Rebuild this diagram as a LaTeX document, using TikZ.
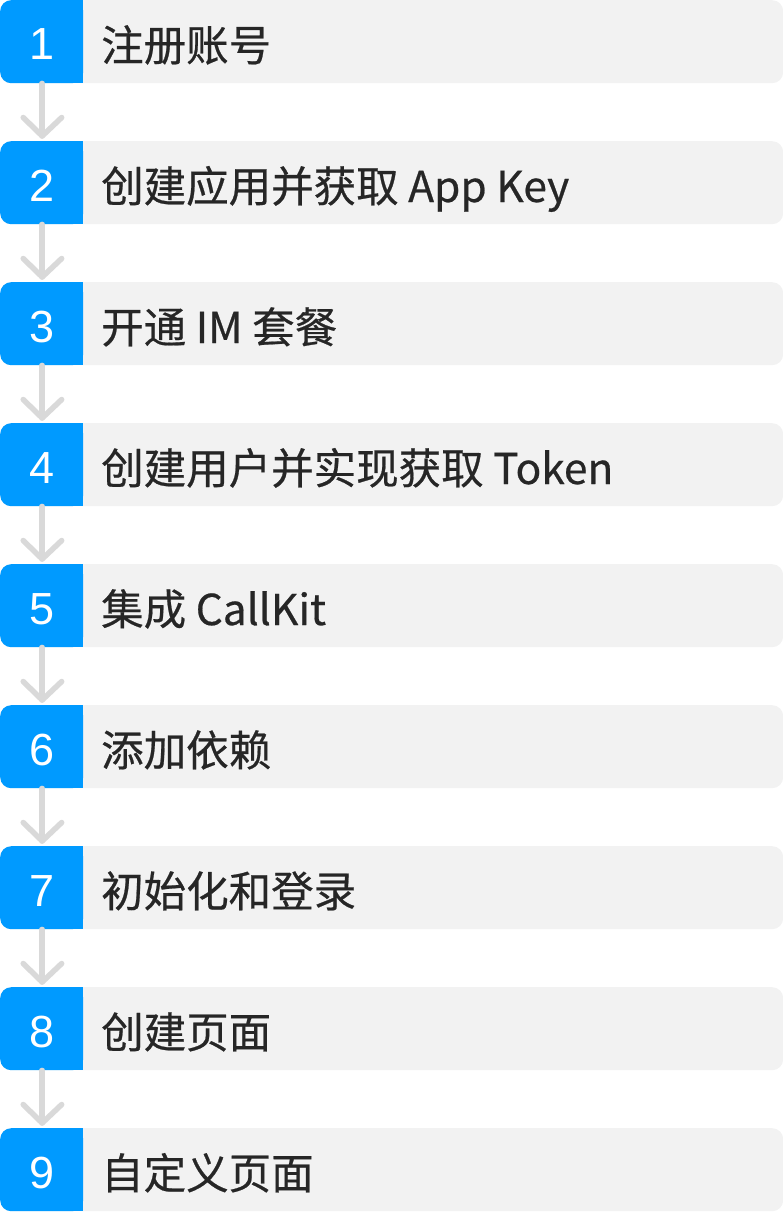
\documentclass[tikz,border=0pt]{standalone}
\usepackage{fontspec}
\setmainfont[FakeBold=0.5]{Noto Sans CJK SC}
\newfontfamily\numfont{Liberation Sans}
\definecolor{numblue}{HTML}{009AFF}
\definecolor{boxgray}{HTML}{F2F2F2}
\definecolor{txtdark}{HTML}{262626}
\definecolor{conngray}{HTML}{D9D9D9}
\begin{document}
\begin{tikzpicture}[x=1pt,y=1pt,
  graybox/.style={fill=boxgray, rounded corners=11pt, minimum width=783pt, minimum height=83pt, inner sep=0pt, anchor=north west},
  numbox/.style={fill=numblue, rounded corners=11pt, minimum width=83pt, minimum height=83pt, inner sep=0pt, anchor=north west},
  numtxt/.style={text=white, font=\numfont\fontsize{45}{45}\selectfont, inner sep=0pt, anchor=base},
  steptxt/.style={text=txtdark, font=\fontsize{42.5}{42.5}\selectfont, inner sep=0pt, anchor=base west},
  conn/.style={draw=conngray, line width=5.5pt, line cap=round, line join=round}
]
\useasboundingbox (0,0) rectangle (783,-1212);
\foreach \i/\t in {1/注册账号,2/创建应用并获取 App Key,3/开通 IM 套餐,4/创建用户并实现获取 Token,5/集成 CallKit,6/添加依赖,7/初始化和登录,8/创建页面,9/自定义页面}{
  \pgfmathsetmacro{\top}{-141*(\i-1)}
  \node[graybox] (b\i) at (0,\top) {};
  \node[numbox] (n\i) at (0,\top) {};
  \fill[numblue] ([xshift=-14pt]n\i.north east) rectangle (n\i.south east);
  \node[numtxt] (d\i) at ([yshift=-60pt]n\i.north) {\i};
  \node[steptxt] (t\i) at ([xshift=101pt,yshift=-61pt]n\i.north west) {\t};
}
\foreach \i [evaluate=\i as \j using int(\i+1)] in {1,...,8}{
  \coordinate (tip\i) at ([xshift=0.5pt,yshift=5pt]n\j.north);
  \draw[conn] ([xshift=0.5pt]n\i.south) -- (tip\i);
  \draw[conn] ([xshift=-19pt,yshift=18.5pt]tip\i) -- (tip\i) -- ([xshift=19.5pt,yshift=18.5pt]tip\i);
}
\end{tikzpicture}
\end{document}
